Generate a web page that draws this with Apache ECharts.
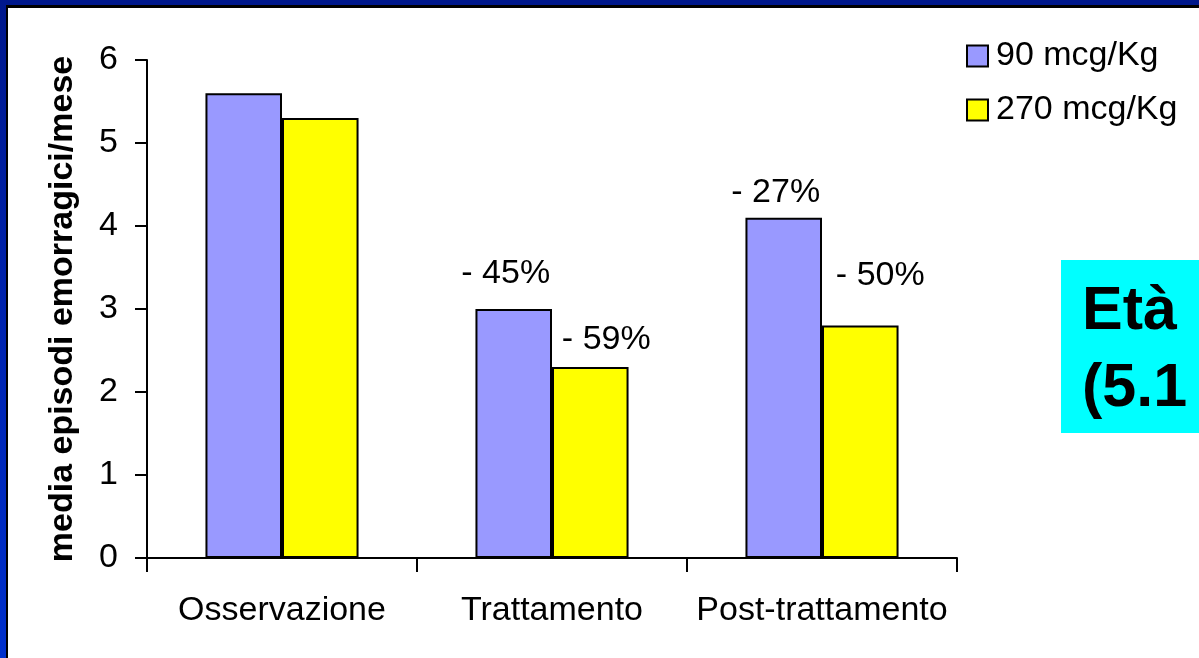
<!DOCTYPE html>
<html>
<head>
<meta charset="utf-8">
<script src="https://cdn.jsdelivr.net/npm/echarts@6/dist/echarts.min.js"></script>
<style>
  html, body { margin: 0; padding: 0; width: 1199px; height: 658px; overflow: hidden; background: #fff; }
  #chart { position: absolute; left: 0; top: 0; width: 1199px; height: 658px; }
  .frame-top { position: absolute; left: 0; top: 0; width: 1199px; height: 5px; background: #00188c; }
  .frame-left { position: absolute; left: 0; top: 0; width: 6px; height: 658px;
                background: linear-gradient(to bottom, #00188c 0%, #0024b0 50%, #0030cc 100%); }
  .line-top { position: absolute; left: 6px; top: 5px; width: 1193px; height: 3px; background: #000; }
  .line-left { position: absolute; left: 6px; top: 5px; width: 2px; height: 653px; background: #000; }
</style>
</head>
<body>
<div id="chart"></div>
<div class="frame-top"></div>
<div class="frame-left"></div>
<div class="line-top"></div>
<div class="line-left"></div>
<script>
// Mean bleeding episodes per month, by period and dose
const categories = ['Osservazione', 'Trattamento', 'Post-trattamento'];
const seriesNames = ['90 mcg/Kg', '270 mcg/Kg'];
const dose90 = [5.6, 3.0, 4.1];
const dose270 = [5.3, 2.3, 2.8];
// Reduction versus the observation period (no label for the baseline)
const change90 = ['', '- 45%', '- 27%'];
const change270 = ['', '- 59%', '- 50%'];
const yTicks = [0, 1, 2, 3, 4, 5, 6];
const yTitle = 'media episodi emorragici/mese';
const sideNote = ['Età', '(5.1'];

const FONT = '"Liberation Sans", Arial, Helvetica, sans-serif';

// label nudges so the percentages sit beside their bars
const offsets90 = [[0, 0], [-8, -18], [-8, -8]];
const offsets270 = [[0, 0], [16, -10], [20, -33]];

function buildData(values, labels, offsets) {
  return values.map((v, i) => ({
    value: v,
    label: {
      show: labels[i] !== '',
      formatter: labels[i],
      offset: offsets[i]
    }
  }));
}

const labelStyle = {
  position: 'top',
  distance: 0,
  color: '#000',
  fontSize: 34,
  fontFamily: FONT
};

const chart = echarts.init(document.getElementById('chart'), null, { renderer: 'canvas' });

chart.setOption({
  animation: false,
  backgroundColor: '#fff',
  textStyle: { fontFamily: FONT },
  grid: { left: 147, right: 242, top: 60, bottom: 100, containLabel: false },
  legend: {
    data: seriesNames,
    orient: 'vertical',
    left: 961,
    top: 34,
    itemWidth: 21,
    itemHeight: 21,
    itemGap: 20,
    icon: 'rect',
    textStyle: { color: '#000', fontSize: 34, fontFamily: FONT, padding: [0, 0, 0, 3] }
  },
  xAxis: {
    type: 'category',
    data: categories,
    axisLine: { lineStyle: { color: '#000', width: 2 } },
    axisTick: { show: true, interval: 0, length: 14, alignWithLabel: false, lineStyle: { color: '#000', width: 2 } },
    axisLabel: { interval: 0, hideOverlap: false, color: '#000', fontSize: 34, fontFamily: FONT, margin: 36 },
    splitLine: { show: false }
  },
  yAxis: {
    type: 'value',
    min: yTicks[0],
    max: yTicks[yTicks.length - 1],
    interval: 1,
    name: yTitle,
    nameLocation: 'middle',
    nameRotate: 90,
    nameGap: 67,
    nameTextStyle: { color: '#000', fontSize: 34, fontWeight: 'bold', fontFamily: FONT },
    axisLine: { show: true, lineStyle: { color: '#000', width: 2 } },
    axisTick: { show: true, length: 12, lineStyle: { color: '#000', width: 2 } },
    axisLabel: { color: '#000', fontSize: 34, fontFamily: FONT, margin: 29 },
    splitLine: { show: false }
  },
  series: [
    {
      name: seriesNames[0],
      type: 'bar',
      data: buildData(dose90, change90, offsets90),
      barGap: '0%',
      barCategoryGap: '43.3%',
      itemStyle: { color: '#9999ff', borderColor: '#000', borderWidth: 2 },
      label: labelStyle
    },
    {
      name: seriesNames[1],
      type: 'bar',
      data: buildData(dose270, change270, offsets270),
      barGap: '0%',
      barCategoryGap: '43.3%',
      itemStyle: { color: '#ffff00', borderColor: '#000', borderWidth: 2 },
      label: labelStyle
    }
  ],
  graphic: [
    {
      type: 'rect',
      left: 1061,
      top: 260,
      shape: { width: 140, height: 173 },
      style: { fill: '#00ffff' },
      z: 10
    },
    {
      type: 'text',
      left: 1082,
      top: 274,
      style: {
        text: sideNote.join('\n'),
        fill: '#000',
        font: 'bold 61px ' + FONT,
        lineHeight: 77
      },
      z: 11
    }
  ]
});
</script>
</body>
</html>
